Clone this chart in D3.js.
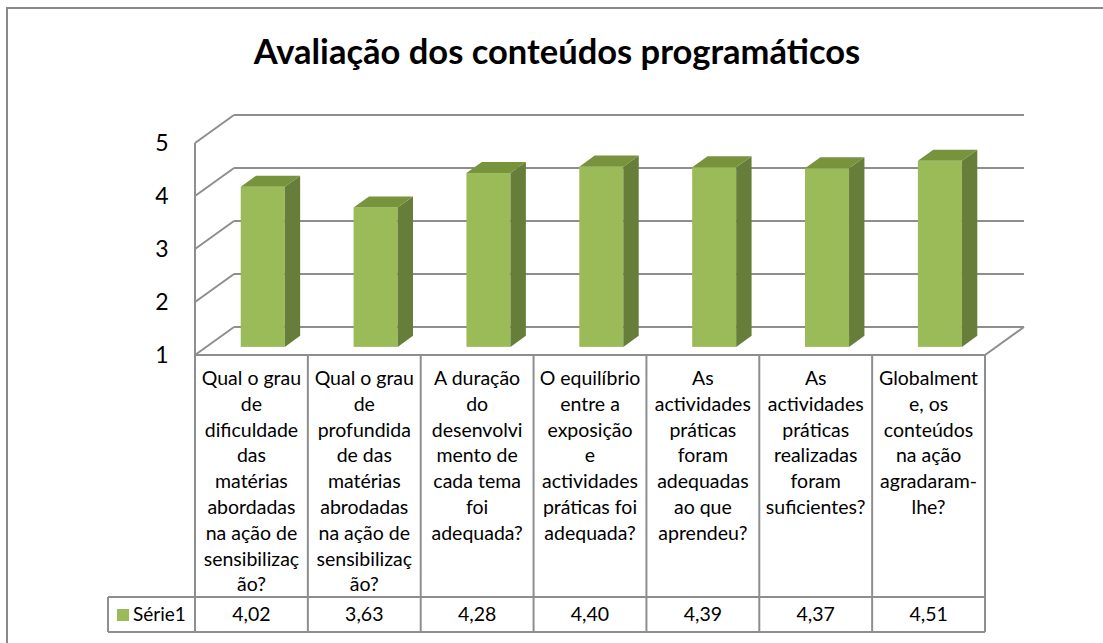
<!DOCTYPE html>
<html>
<head>
<meta charset="utf-8">
<script src="https://cdn.jsdelivr.net/npm/d3@7"></script>
<style>
  body { margin: 0; background: #fff; }
  svg { display: block; font-family: Lato, "Open Sans", sans-serif; }
</style>
</head>
<body>
<div id="chart"></div>
<script>
// chart data
const title = "Avaliação dos conteúdos programáticos";
const seriesName = "Série1";
const categories = [
    "Qual o grau de dificuldade das matérias abordadas na ação de sensibilização?",
    "Qual o grau de profundidade das matérias abrodadas na ação de sensibilização?",
    "A duração do desenvolvimento de cada tema foi adequada?",
    "O equilíbrio entre a exposição e actividades práticas foi adequada?",
    "As actividades práticas foram adequadas ao que aprendeu?",
    "As actividades práticas realizadas foram suficientes?",
    "Globalmente, os conteúdos na ação agradaram-lhe?"
];
// category labels as wrapped in the data table
const categoryLines = [
    ["Qual o grau", "de", "dificuldade", "das", "matérias", "abordadas", "na ação de", "sensibilizaç", "ão?"],
    ["Qual o grau", "de", "profundida", "de das", "matérias", "abrodadas", "na ação de", "sensibilizaç", "ão?"],
    ["A duração", "do", "desenvolvi", "mento de", "cada tema", "foi", "adequada?"],
    ["O equilíbrio", "entre a", "exposição", "e", "actividades", "práticas foi", "adequada?"],
    ["As", "actividades", "práticas", "foram", "adequadas", "ao que", "aprendeu?"],
    ["As", "actividades", "práticas", "realizadas", "foram", "suficientes?"],
    ["Globalment", "e, os", "conteúdos", "na ação", "agradaram-", "lhe?"]
];
const values = [4.02, 3.63, 4.28, 4.40, 4.39, 4.37, 4.51];
const yTicks = [1, 2, 3, 4, 5];

const W = 1103, H = 643;
const gridColor = "#8e8e8e";

const svg = d3.select("#chart").append("svg")
    .attr("width", W)
    .attr("height", H);

// outer chart frame
svg.append("rect")
    .attr("x", 7).attr("y", 8)
    .attr("width", W + 20).attr("height", H + 20)
    .attr("fill", "none")
    .attr("stroke", "#8a8a8a")
    .attr("stroke-width", 2);

svg.append("text")
    .attr("x", 557).attr("y", 64)
    .attr("text-anchor", "middle")
    .style("font-size", "34.5px")
    .style("font-weight", "bold")
    .text(title);

// front plane scales + depth offset of the 3d box
let x = d3.scaleBand()
    .domain(d3.range(categories.length))
    .range([195, 985]);

let y = d3.scaleLinear()
    .domain([1, 5])
    .range([355, 143]);

const dx = 39, dy = -28;
const x0 = x.range()[0], x1 = x.range()[1];

let grid = svg.append("g")
    .attr("fill", "none")
    .attr("stroke", gridColor)
    .attr("stroke-width", 2);

// back wall gridlines
grid.selectAll(".back")
    .data(yTicks)
    .enter().append("line")
    .attr("x1", x0 + dx).attr("x2", x1 + dx)
    .attr("y1", d => y(d) + dy).attr("y2", d => y(d) + dy);

// left wall diagonals
grid.selectAll(".side")
    .data(yTicks)
    .enter().append("line")
    .attr("x1", x0).attr("x2", x0 + dx)
    .attr("y1", d => y(d)).attr("y2", d => y(d) + dy);

// front vertical edge + floor right edge
grid.append("line")
    .attr("x1", x0).attr("x2", x0)
    .attr("y1", y(5)).attr("y2", y(1));
grid.append("line")
    .attr("x1", x1).attr("x2", x1 + dx)
    .attr("y1", y(1)).attr("y2", y(1) + dy);

// y tick labels
svg.selectAll(".ytick")
    .data(yTicks)
    .enter().append("text")
    .attr("x", 162)
    .attr("y", d => y(d))
    .attr("dy", "0.36em")
    .attr("text-anchor", "middle")
    .style("font-size", "23px")
    .text(d => d);

// bars (front depth f1, back depth f2)
const f1 = 0.29, f2 = 0.685;
const bw = x.bandwidth() * 0.39;
const ddx = dx * (f2 - f1), ddy = dy * (f2 - f1);

let bars = svg.selectAll(".bar")
    .data(values)
    .enter().append("g")
    .attr("class", "bar");

const bx = (d, i) => x(i) + (x.bandwidth() - bw) / 2 + dx * f1;
const yb = y(1) + dy * f1;
const yt = d => y(d) + dy * f1;

bars.append("rect")
    .attr("x", bx)
    .attr("y", yt)
    .attr("width", bw)
    .attr("height", d => yb - yt(d))
    .attr("fill", "#9bbb59");

bars.append("polygon")
    .attr("fill", "#677e3a")
    .attr("points", (d, i) => {
        let l = bx(d, i) + bw;
        return [[l, yt(d)], [l + ddx, yt(d) + ddy], [l + ddx, yb + ddy], [l, yb]].join(" ");
    });

bars.append("polygon")
    .attr("fill", "#77933c")
    .attr("points", (d, i) => {
        let l = bx(d, i);
        return [[l, yt(d)], [l + ddx, yt(d) + ddy], [l + bw + ddx, yt(d) + ddy], [l + bw, yt(d)]].join(" ");
    });

// data table
const tTop = 355, tMid = 597, tBot = 632, legLeft = 108;
let table = svg.append("g")
    .attr("stroke", gridColor)
    .attr("stroke-width", 2);

table.append("line").attr("x1", x0).attr("x2", x1).attr("y1", tTop).attr("y2", tTop);
table.append("line").attr("x1", legLeft).attr("x2", x1).attr("y1", tMid).attr("y2", tMid);
table.append("line").attr("x1", legLeft).attr("x2", x1).attr("y1", tBot).attr("y2", tBot);
table.append("line").attr("x1", legLeft).attr("x2", legLeft).attr("y1", tMid).attr("y2", tBot);

table.selectAll(".col")
    .data(d3.range(categories.length + 1))
    .enter().append("line")
    .attr("x1", i => i < categories.length ? x(i) : x1)
    .attr("x2", i => i < categories.length ? x(i) : x1)
    .attr("y1", tTop).attr("y2", tBot);

let labels = svg.selectAll(".cat")
    .data(categoryLines)
    .enter().append("text")
    .attr("text-anchor", "middle")
    .style("font-size", "19.5px");

labels.selectAll("tspan")
    .data((d, i) => d.map(t => ({ t: t, i: i })))
    .enter().append("tspan")
    .attr("x", d => x(d.i) + x.bandwidth() / 2)
    .attr("y", (d, k) => 385 + k * 25.8)
    .text(d => d.t);

svg.selectAll(".val")
    .data(values)
    .enter().append("text")
    .attr("x", (d, i) => x(i) + x.bandwidth() / 2)
    .attr("y", 621)
    .attr("text-anchor", "middle")
    .style("font-size", "19.5px")
    .text(d => d3.format(".2f")(d).replace(".", ","));

// legend key
svg.append("rect")
    .attr("x", 117).attr("y", 609)
    .attr("width", 12).attr("height", 12)
    .attr("fill", "#9bbb59");
svg.append("text")
    .attr("x", 133).attr("y", 621)
    .style("font-size", "19px")
    .text(seriesName);
</script>
</body>
</html>
